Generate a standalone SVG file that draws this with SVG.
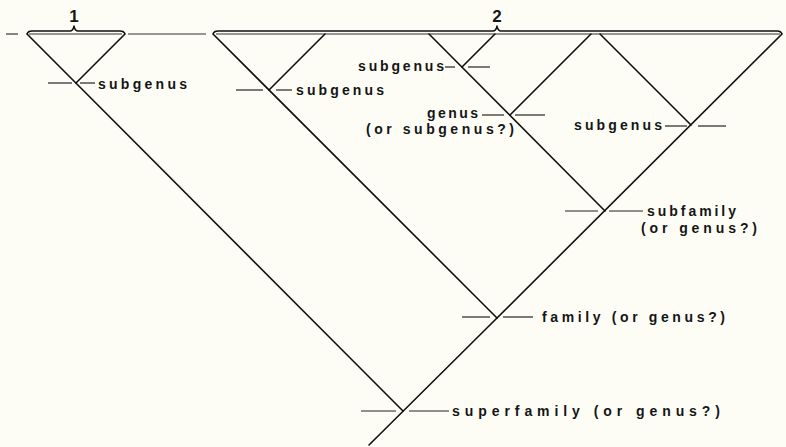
<svg xmlns="http://www.w3.org/2000/svg" width="786" height="447" viewBox="0 0 786 447">
  <style>
    .branch { stroke: #111; stroke-width: 1.6; fill: none; stroke-linecap: round; }
    .tick { stroke: #222; stroke-width: 1.2; fill: none; }
    .base { stroke: #333; stroke-width: 1.2; fill: none; }
    .brace { stroke: #111; stroke-width: 1.4; fill: none; stroke-linejoin: round; }
    .lbl { font-family: "Liberation Sans", Arial, sans-serif; font-size: 14px; font-weight: bold; fill: #151515; }
    .num { font-family: "Liberation Sans", Arial, sans-serif; font-size: 17px; font-weight: bold; fill: #151515; text-anchor: middle; }
  </style>
  <rect x="0" y="0" width="786" height="447" fill="#fdfdf5"/>

  <!-- top baseline of the tree -->
  <g id="baseline">
    <line class="base" x1="6" y1="34" x2="18" y2="34"/>
    <line class="base" x1="29" y1="34" x2="122" y2="34"/>
    <line class="base" x1="128" y1="34" x2="206" y2="34"/>
    <line class="base" x1="216" y1="34" x2="780" y2="34"/>
  </g>

  <!-- group braces -->
  <g id="brace-1">
    <path class="brace" d="M27,34 Q28,31 32,31 L70,31 Q73,31 74,26 Q75,31 78,31 L120,31 Q124,31 125,34"/>
    <text class="num" x="74" y="22">1</text>
  </g>
  <g id="brace-2">
    <path class="brace" d="M213,34 Q214,31 218,31 L493,31 Q496,31 497,26 Q498,31 501,31 L777,31 Q781,31 782,34"/>
    <text class="num" x="497" y="22">2</text>
  </g>

  <!-- branches -->
  <g id="connectors">
    <!-- group 1 -->
    <line class="branch" x1="27" y1="34" x2="403" y2="411"/>
    <line class="branch" x1="125" y1="34" x2="76" y2="83"/>
    <!-- group 2, first clade -->
    <line class="branch" x1="213" y1="34" x2="497" y2="318"/>
    <line class="branch" x1="325" y1="34" x2="269" y2="90"/>
    <!-- group 2, second clade -->
    <line class="branch" x1="429" y1="34" x2="605" y2="211"/>
    <line class="branch" x1="495" y1="34" x2="462" y2="67"/>
    <line class="branch" x1="591" y1="34" x2="510" y2="115"/>
    <line class="branch" x1="600" y1="34" x2="691" y2="125"/>
    <line class="branch" x1="782" y1="34" x2="497" y2="318"/>
    <!-- trunk -->
    <line class="branch" x1="497" y1="318" x2="369" y2="445"/>
  </g>

  <!-- rank nodes -->
  <g id="node-subgenus-1">
    <line class="tick" x1="48" y1="83" x2="72" y2="83"/>
    <line class="tick" x1="80" y1="83" x2="95" y2="83"/>
    <text class="lbl" x="98" y="89" textLength="89" lengthAdjust="spacing">subgenus</text>
  </g>
  <g id="node-subgenus-2">
    <line class="tick" x1="236" y1="90" x2="263" y2="90"/>
    <line class="tick" x1="276" y1="90" x2="292" y2="90"/>
    <text class="lbl" x="296" y="95" textLength="88" lengthAdjust="spacing">subgenus</text>
  </g>
  <g id="node-subgenus-3">
    <line class="tick" x1="445" y1="67" x2="455" y2="67"/>
    <line class="tick" x1="468" y1="67" x2="490" y2="67"/>
    <text class="lbl" x="358" y="71" textLength="86" lengthAdjust="spacing">subgenus</text>
  </g>
  <g id="node-genus">
    <line class="tick" x1="482" y1="115" x2="504" y2="115"/>
    <line class="tick" x1="515" y1="115" x2="545" y2="115"/>
    <text class="lbl" x="427" y="118" textLength="51" lengthAdjust="spacing">genus</text>
    <text class="lbl" x="366" y="134" textLength="148" lengthAdjust="spacing">(or subgenus?)</text>
  </g>
  <g id="node-subgenus-4">
    <line class="tick" x1="665" y1="126" x2="687" y2="126"/>
    <line class="tick" x1="698" y1="126" x2="726" y2="126"/>
    <text class="lbl" x="574" y="130" textLength="88" lengthAdjust="spacing">subgenus</text>
  </g>
  <g id="node-subfamily">
    <line class="tick" x1="565" y1="211" x2="598" y2="211"/>
    <line class="tick" x1="609" y1="211" x2="643" y2="211"/>
    <text class="lbl" x="647" y="216" textLength="89" lengthAdjust="spacing">subfamily</text>
    <text class="lbl" x="641" y="233" textLength="116" lengthAdjust="spacing">(or genus?)</text>
  </g>
  <g id="node-family">
    <line class="tick" x1="462" y1="317" x2="490" y2="317"/>
    <line class="tick" x1="503" y1="317" x2="533" y2="317"/>
    <text class="lbl" x="542" y="322" textLength="183" lengthAdjust="spacing">family (or genus?)</text>
  </g>
  <g id="node-superfamily">
    <line class="tick" x1="361" y1="411" x2="396" y2="411"/>
    <line class="tick" x1="409" y1="411" x2="449" y2="411"/>
    <text class="lbl" x="452" y="416" textLength="268" lengthAdjust="spacing">superfamily (or genus?)</text>
  </g>
</svg>
